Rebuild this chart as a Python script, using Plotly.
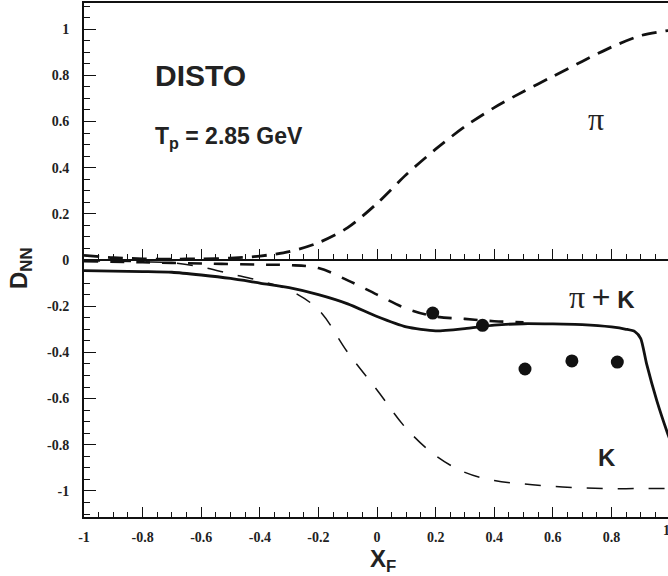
import plotly.graph_objects as go

# ---- data ----
pi_x = [-1.0, -0.9, -0.8, -0.7, -0.6, -0.5, -0.4, -0.3, -0.2, -0.1, 0.0, 0.1, 0.2, 0.3, 0.4, 0.5, 0.6, 0.7, 0.8, 0.9, 1.0]
pi_y = [0.02, 0.01, 0.005, 0.004, 0.005, 0.008, 0.017, 0.036, 0.075, 0.14, 0.245, 0.37, 0.48, 0.578, 0.66, 0.73, 0.795, 0.86, 0.922, 0.972, 0.995]

k_x = [-1.0, -0.9, -0.8, -0.7, -0.6, -0.5, -0.4, -0.3, -0.2, -0.1, 0.0, 0.1, 0.2, 0.3, 0.4, 0.5, 0.6, 0.7, 0.8, 0.9, 1.0]
k_y = [-0.003, -0.005, -0.008, -0.012, -0.03, -0.06, -0.09, -0.13, -0.215, -0.40, -0.563, -0.73, -0.847, -0.92, -0.955, -0.97, -0.98, -0.987, -0.99, -0.99, -0.99]

pik_dash_x = [-1.0, -0.8, -0.6, -0.4, -0.3, -0.2, -0.1, 0.0, 0.1, 0.2, 0.3, 0.4, 0.5]
pik_dash_y = [-0.005, -0.01, -0.015, -0.02, -0.022, -0.035, -0.088, -0.15, -0.21, -0.245, -0.255, -0.265, -0.27]

solid_x = [-1.0, -0.9, -0.8, -0.7, -0.6, -0.5, -0.4, -0.3, -0.2, -0.1, 0.0, 0.1, 0.2, 0.3, 0.4, 0.5, 0.6, 0.7, 0.8, 0.85, 0.88, 0.9, 0.92, 0.955, 0.99, 1.0]
solid_y = [-0.046, -0.048, -0.05, -0.053, -0.065, -0.08, -0.10, -0.12, -0.15, -0.19, -0.245, -0.29, -0.307, -0.297, -0.282, -0.276, -0.277, -0.28, -0.29, -0.30, -0.31, -0.34, -0.45, -0.61, -0.745, -0.78]

data_x = [0.19, 0.36, 0.505, 0.665, 0.82]
data_y = [-0.23, -0.283, -0.472, -0.437, -0.442]

y_tickvals = [-1, -0.8, -0.6, -0.4, -0.2, 0, 0.2, 0.4, 0.6, 0.8, 1]
y_ticktext = ["-1", "-0.8", "-0.6", "-0.4", "-0.2", "0", "0.2", "0.4", "0.6", "0.8", "1"]
x_tickvals = [-1, -0.8, -0.6, -0.4, -0.2, 0, 0.2, 0.4, 0.6, 0.8]
x_ticktext = ["-1", "-0.8", "-0.6", "-0.4", "-0.2", "0", "0.2", "0.4", "0.6", "0.8"]
x_last_ticktext = "1"

INK = "#111111"
TEXT = "#222222"

fig = go.Figure()
fig.add_trace(go.Scatter(x=pi_x, y=pi_y, mode="lines", line=dict(color=INK, width=2.8, dash="15px,9px", shape="spline", smoothing=0.8), showlegend=False))
fig.add_trace(go.Scatter(x=k_x, y=k_y, mode="lines", line=dict(color=INK, width=1.5, dash="16px,15px", shape="spline"), showlegend=False))
fig.add_trace(go.Scatter(x=pik_dash_x, y=pik_dash_y, mode="lines", line=dict(color=INK, width=2.6, dash="14px,12px", shape="spline"), showlegend=False))
fig.add_trace(go.Scatter(x=solid_x, y=solid_y, mode="lines", line=dict(color=INK, width=2.8, shape="spline", smoothing=0.6), showlegend=False))
fig.add_trace(go.Scatter(x=data_x, y=data_y, mode="markers", marker=dict(color=INK, size=13), showlegend=False))

tickfont = dict(family="Liberation Serif", size=14, color=TEXT, weight="bold")

fig.update_layout(
    width=668, height=576,
    margin=dict(l=84, r=0, t=3, b=59),
    paper_bgcolor="white", plot_bgcolor="white",
    xaxis=dict(range=[-1, 0.993], showgrid=False, zeroline=False,
               showline=True, linecolor=INK, linewidth=2, mirror=True,
               ticks="inside", ticklen=10, tickwidth=1.2, tickcolor=INK,
               tickmode="array", tickvals=x_tickvals, ticktext=x_ticktext,
               tickfont=tickfont, ticklabelstandoff=6,
               minor=dict(ticks="inside", ticklen=5, tickwidth=1.2, tickcolor=INK, dtick=0.05, tick0=0, showgrid=False)),
    xaxis2=dict(range=[-1, 0.993], overlaying="x", anchor="free", position=0.5, side="bottom",
                showgrid=False, zeroline=False, showline=True, linecolor=INK, linewidth=2,
                ticks="inside", ticklen=10, tickwidth=1.2, tickcolor=INK,
                tickmode="array", tickvals=x_tickvals, showticklabels=False,
                minor=dict(ticks="inside", ticklen=5, tickwidth=1.2, tickcolor=INK, dtick=0.05, tick0=0, showgrid=False)),
    yaxis=dict(range=[-1.113, 1.113], showgrid=False, zeroline=False,
               showline=True, linecolor=INK, linewidth=2,
               ticks="inside", ticklen=12, tickwidth=1.2, tickcolor=INK,
               tickmode="array", tickvals=y_tickvals, ticktext=y_ticktext,
               tickfont=tickfont, ticklabelstandoff=10,
               minor=dict(ticks="inside", ticklen=6, tickwidth=1.2, tickcolor=INK, dtick=0.05, tick0=0, showgrid=False)),
)

# invisible trace to activate xaxis2 (the y = 0 axis)
fig.add_trace(go.Scatter(x=[-1], y=[0], xaxis="x2", mode="markers", marker=dict(opacity=0), showlegend=False, hoverinfo="skip"))

sans_b = dict(family="Liberation Sans", color=TEXT, weight="bold")
anns = [
    dict(x=-0.764, y=0.80, xref="x", yref="y", text="DISTO", xanchor="left", yanchor="middle", font=dict(size=30, **sans_b)),
    dict(x=-0.764, y=0.53, xref="x", yref="y", text="T<sub>p</sub> = 2.85 GeV", xanchor="left", yanchor="middle", font=dict(size=23, **sans_b)),
    dict(x=0.747, y=0.61, xref="x", yref="y", text="π", xanchor="center", yanchor="middle", font=dict(family="Liberation Serif", size=32, color=TEXT)),
    dict(x=0.768, y=-0.16, xref="x", yref="y",
         text="<span style='font-family:Liberation Serif;font-size:32px'>π</span> <span style='font-family:Liberation Sans;font-size:32px'>+</span> <b>K</b>",
         xanchor="center", yanchor="middle", font=dict(family="Liberation Sans", size=24, color=TEXT)),
    dict(x=0.785, y=-0.857, xref="x", yref="y", text="K", xanchor="center", yanchor="middle", font=dict(size=24, **sans_b)),
    dict(x=-0.1096, y=0.4844, xref="paper", yref="paper", text="D<sub>NN</sub>", textangle=-90, xanchor="center", yanchor="middle", font=dict(size=24, **sans_b)),
    dict(x=0.512, y=-0.0837, xref="paper", yref="paper", text="X<sub>F</sub>", xanchor="center", yanchor="middle", font=dict(size=24, **sans_b)),
    dict(x=0.998, y=-0.027, xref="paper", yref="paper", text=x_last_ticktext, xanchor="center", yanchor="middle", font=tickfont),
]
for a in anns:
    a["showarrow"] = False
fig.update_layout(annotations=anns)

fig.write_html("out.html", config={"displayModeBar": False},
               post_script="document.body.style.margin='0px';document.body.style.overflow='hidden';")
